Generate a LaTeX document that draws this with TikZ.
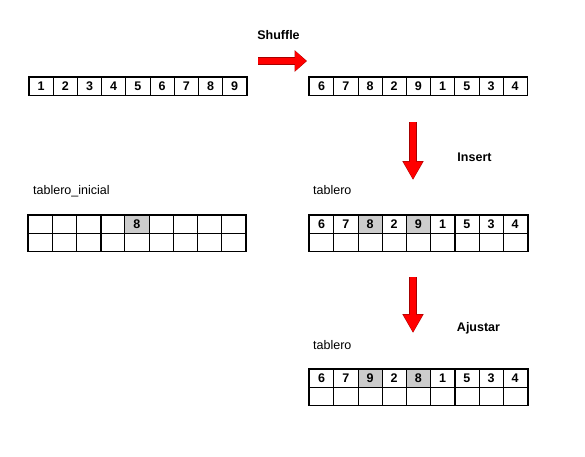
\documentclass[tikz,border=0pt]{standalone}
\usepackage{fontspec}
\setmainfont{Liberation Sans}
\usetikzlibrary{arrows.meta, positioning, calc}

\tikzset{
    cell/.style={rectangle, draw, line width=0.8pt, minimum width=24.2pt, minimum height=18pt,
        inner sep=0pt, font=\fontsize{12.5}{14}\selectfont\bfseries},
    marked/.style={cell, fill=gray!40},
    caption/.style={anchor=west, inner sep=0pt, font=\fontsize{12.5}{14}\selectfont},
    steplabel/.style={inner sep=0pt, font=\fontsize{12.5}{14}\selectfont\bfseries},
    arrowrim/.style={line width=8pt, red!65!black},
    arrowbody/.style={line width=6.5pt, red}
}

\begin{document}
\begin{tikzpicture}[x=1pt, y=-1pt]
    \useasboundingbox (0,0) rectangle (585,456);

    % original order
    \foreach \v [count=\i from 0] in {1,...,9}
        \node[cell] (orig-\i) at ({41.1+24.2*\i},86) {\v};

    % shuffled order
    \foreach \v [count=\i from 0] in {6,7,8,2,9,1,5,3,4}
        \node[cell] (shuf-\i) at ({321.6+24.2*\i},86) {\v};

    % tablero_inicial
    \node[caption] (ini-label) at (33,191) {tablero\_inicial};
    \foreach \v/\s [count=\i from 0] in {/cell,/cell,/cell,/cell,8/marked,/cell,/cell,/cell,/cell} {
        \node[\s] (ini-a\i) at ({40.1+24.2*\i},224) {\v};
        \node[cell] (ini-b\i) at ({40.1+24.2*\i},242) {};
    }

    % tablero after insert
    \node[caption] (ins-label) at (313,190) {tablero};
    \foreach \v/\s [count=\i from 0] in {6/cell,7/cell,8/marked,2/cell,9/marked,1/cell,5/cell,3/cell,4/cell} {
        \node[\s] (ins-a\i) at ({321.6+24.2*\i},224) {\v};
        \node[cell] (ins-b\i) at ({321.6+24.2*\i},242) {};
    }

    % tablero after ajustar
    \node[caption] (adj-label) at (313,345) {tablero};
    \foreach \v/\s [count=\i from 0] in {6/cell,7/cell,9/marked,2/cell,8/marked,1/cell,5/cell,3/cell,4/cell} {
        \node[\s] (adj-a\i) at ({321.6+24.2*\i},378) {\v};
        \node[cell] (adj-b\i) at ({321.6+24.2*\i},396) {};
    }

    % block borders
    \foreach \g in {ini, ins, adj} {
        \draw[line width=1.6pt] (\g-a0.north west) rectangle (\g-b8.south east);
        \foreach \k in {2,5}
            \draw[line width=1.6pt] (\g-a\k.north east) -- (\g-b\k.south east);
    }
    \draw[line width=1.4pt] (orig-0.north west) rectangle (orig-8.south east);
    \draw[line width=1.4pt] (shuf-0.north west) rectangle (shuf-8.south east);

    % arrows
    \coordinate (shuffle-from) at (258,61);
    \coordinate (shuffle-to) at (307,61);
    \coordinate (insert-from) at (413,122);
    \coordinate (insert-to) at (413,180);
    \coordinate (ajustar-from) at (413,277);
    \coordinate (ajustar-to) at (413,333);
    \draw[arrowrim, -{Triangle[length=12.5pt, width=21pt]}] (shuffle-from) -- (shuffle-to);
    \draw[arrowbody, -{Triangle[length=11pt, width=19pt]}] (shuffle-from) -- ($(shuffle-to)+(-0.8,0)$);
    \foreach \a in {insert, ajustar} {
        \draw[arrowrim, -{Triangle[length=19pt, width=20pt]}] (\a-from) -- (\a-to);
        \draw[arrowbody, -{Triangle[length=17.5pt, width=18pt]}] (\a-from) -- ($(\a-to)+(0,-0.8)$);
    }

    \node[steplabel] (shuffle-text) at (278.5,35.5) {Shuffle};
    \node[steplabel] (insert-text) at (474.5,157) {Insert};
    \node[steplabel] (ajustar-text) at (478.5,328.5) {Ajustar};
\end{tikzpicture}
\end{document}
